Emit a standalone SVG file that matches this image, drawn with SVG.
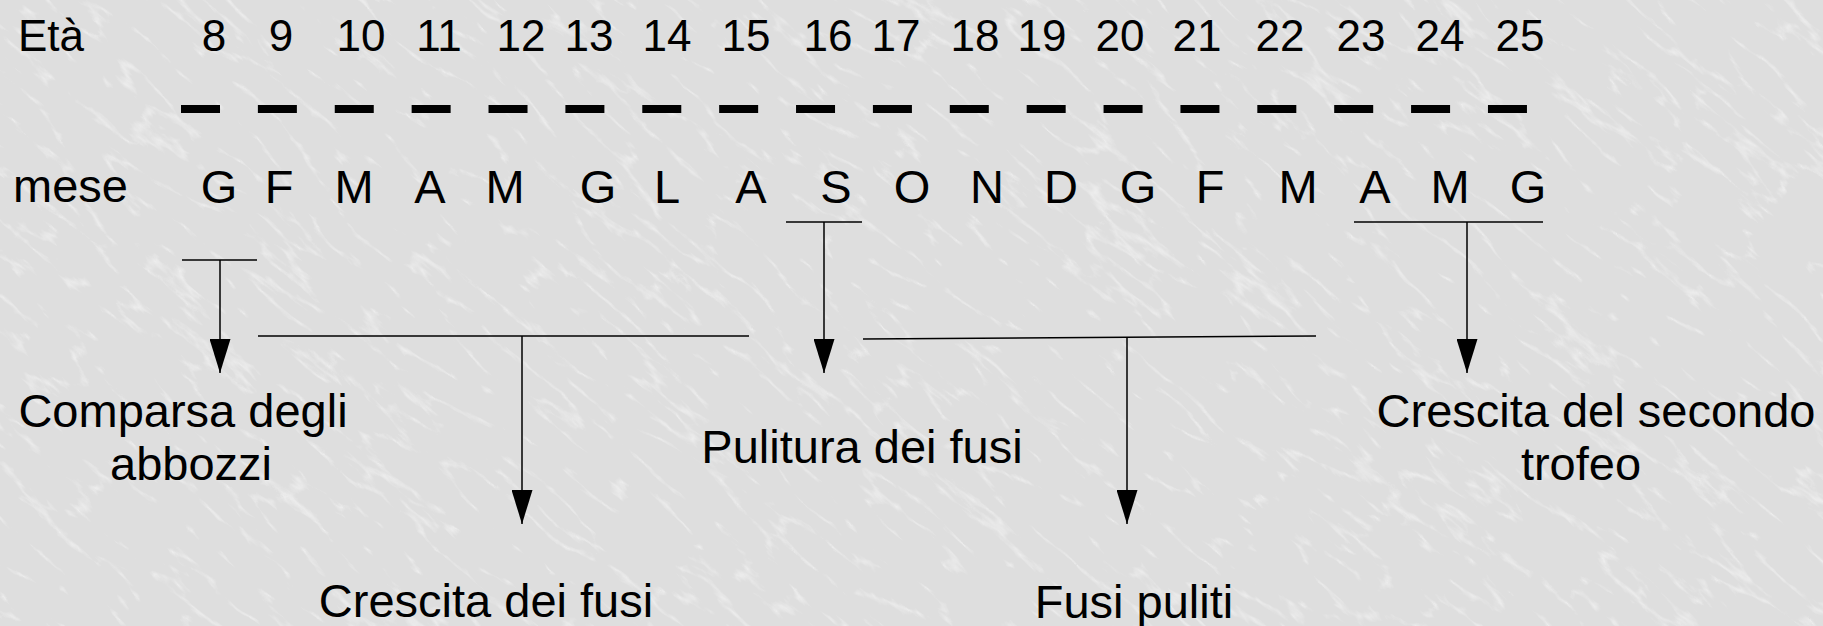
<svg xmlns="http://www.w3.org/2000/svg" width="1823" height="626" viewBox="0 0 1823 626">
  <defs>
    <style>
      .lbl { font-family: "Liberation Sans", Arial, sans-serif; fill: #000; }
      .age { font-size: 44px; text-anchor: middle; }
      .mon { font-size: 47px; text-anchor: middle; }
      .txt { font-size: 47px; text-anchor: middle; }
      .ln { stroke: #000; stroke-width: 1.5; fill: none; }
      .arr { stroke: #000; stroke-width: 1.5; fill: none; marker-end: url(#head); }
    </style>
    <marker id="head" viewBox="0 0 34 21" refX="34" refY="10.5" markerWidth="34" markerHeight="21" markerUnits="userSpaceOnUse" orient="auto">
      <path d="M0,0 L34,10.5 L0,21 Z" fill="#000"/>
    </marker>
    <!-- light marble texture: thin pale veins over grey -->
    <filter id="marble" x="0" y="0" width="100%" height="100%">
      <feTurbulence type="turbulence" baseFrequency="0.01 0.035" numOctaves="4" seed="11" result="n"/>
      <feColorMatrix in="n" type="matrix" values="0 0 0 0 1  0 0 0 0 1  0 0 0 0 1  -6 0 0 0 1.1" result="veins"/>
    </filter>
  </defs>

  <!-- backdrop -->
  <rect width="1823" height="626" fill="#dedede"/>
  <g transform="rotate(40 911 313)" opacity="0.45">
    <rect x="-700" y="-700" width="3200" height="2000" fill="#fff" filter="url(#marble)"/>
  </g>

  <!-- age axis -->
  <g id="age-row" class="lbl">
    <text x="18" y="51" font-size="44">Età</text>
    <text class="age" x="214" y="51">8</text>
    <text class="age" x="281" y="51">9</text>
    <text class="age" x="361" y="51">10</text>
    <text class="age" x="439" y="51">11</text>
    <text class="age" x="521" y="51">12</text>
    <text class="age" x="589" y="51">13</text>
    <text class="age" x="667" y="51">14</text>
    <text class="age" x="746" y="51">15</text>
    <text class="age" x="828" y="51">16</text>
    <text class="age" x="896" y="51">17</text>
    <text class="age" x="975" y="51">18</text>
    <text class="age" x="1042" y="51">19</text>
    <text class="age" x="1120" y="51">20</text>
    <text class="age" x="1197" y="51">21</text>
    <text class="age" x="1280" y="51">22</text>
    <text class="age" x="1361" y="51">23</text>
    <text class="age" x="1440" y="51">24</text>
    <text class="age" x="1520" y="51">25</text>
  </g>

  <!-- tick dashes -->
  <g id="ticks">
    <line x1="181" y1="109" x2="1527" y2="109" stroke="#000" stroke-width="8" stroke-dasharray="39 37.88"/>
  </g>

  <!-- month row -->
  <g id="month-row" class="lbl">
    <text x="13" y="202" font-size="47">mese</text>
    <text class="mon" x="219" y="203">G</text>
    <text class="mon" x="279" y="203">F</text>
    <text class="mon" x="354" y="203">M</text>
    <text class="mon" x="430" y="203">A</text>
    <text class="mon" x="505" y="203">M</text>
    <text class="mon" x="598" y="203">G</text>
    <text class="mon" x="667" y="203">L</text>
    <text class="mon" x="751" y="203">A</text>
    <text class="mon" x="836" y="203">S</text>
    <text class="mon" x="912" y="203">O</text>
    <text class="mon" x="987" y="203">N</text>
    <text class="mon" x="1061" y="203">D</text>
    <text class="mon" x="1138" y="203">G</text>
    <text class="mon" x="1210" y="203">F</text>
    <text class="mon" x="1298" y="203">M</text>
    <text class="mon" x="1375" y="203">A</text>
    <text class="mon" x="1450" y="203">M</text>
    <text class="mon" x="1528" y="203">G</text>
  </g>

  <!-- connectors -->
  <g id="connectors">
    <line class="ln" x1="182" y1="260" x2="257" y2="260"/>
    <line class="arr" x1="220" y1="260" x2="220" y2="373"/>

    <line class="ln" x1="258" y1="336" x2="749" y2="336"/>
    <line class="arr" x1="522" y1="336" x2="522" y2="524"/>

    <line class="ln" x1="786" y1="222" x2="862" y2="222"/>
    <line class="arr" x1="824" y1="222" x2="824" y2="373"/>

    <line class="ln" x1="863" y1="339" x2="1316" y2="336"/>
    <line class="arr" x1="1127" y1="337.5" x2="1127" y2="524"/>

    <line class="ln" x1="1354" y1="222" x2="1543" y2="222"/>
    <line class="arr" x1="1467" y1="222" x2="1467" y2="373"/>
  </g>

  <!-- stage labels -->
  <g id="node-comparsa" class="lbl txt">
    <text x="183" y="427">Comparsa degli</text>
    <text x="191" y="480">abbozzi</text>
  </g>
  <g id="node-crescita-fusi" class="lbl txt">
    <text x="486" y="617">Crescita dei fusi</text>
  </g>
  <g id="node-pulitura" class="lbl txt">
    <text x="862" y="463">Pulitura dei fusi</text>
  </g>
  <g id="node-fusi-puliti" class="lbl txt">
    <text x="1134" y="618">Fusi puliti</text>
  </g>
  <g id="node-secondo-trofeo" class="lbl txt">
    <text x="1596" y="427">Crescita del secondo</text>
    <text x="1581" y="480">trofeo</text>
  </g>
</svg>
